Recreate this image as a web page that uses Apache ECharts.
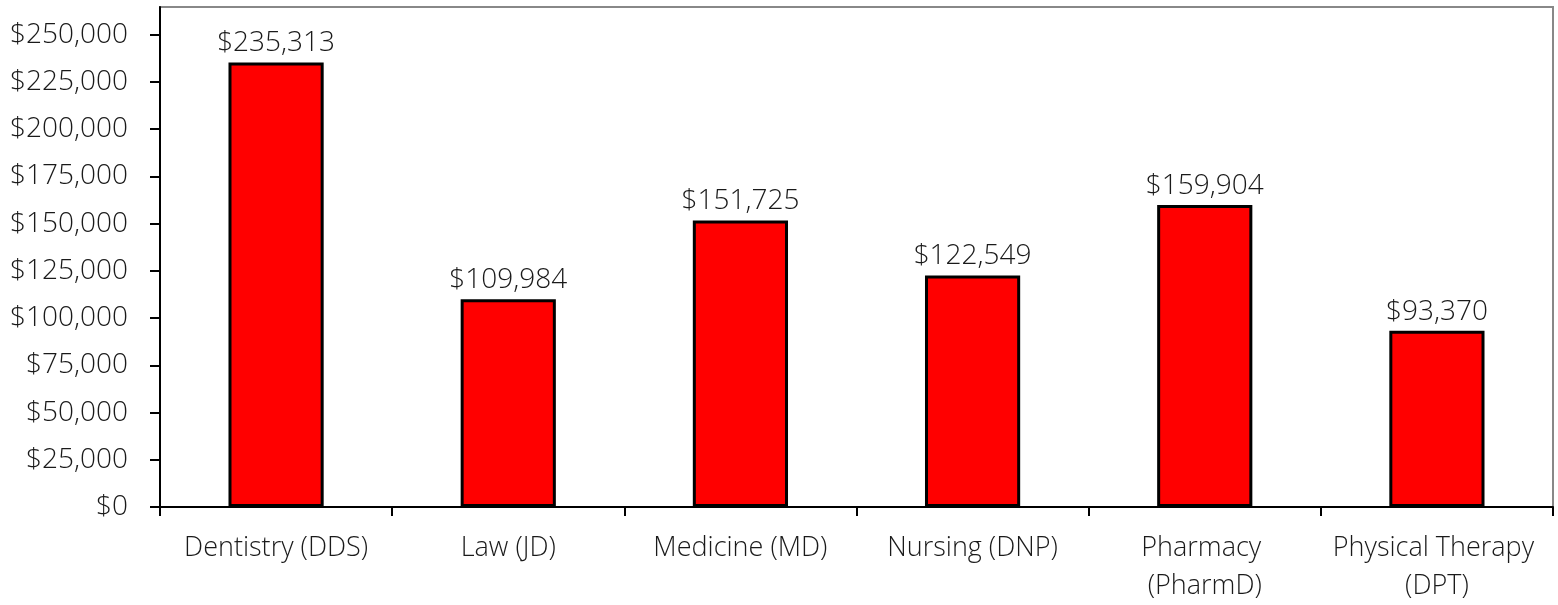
<!DOCTYPE html>
<html>
<head>
<meta charset="utf-8">
<script src="https://cdn.jsdelivr.net/npm/echarts@6/dist/echarts.min.js"></script>
<style>
html,body{margin:0;padding:0;background:#fff;}
#chart{width:1558px;height:605px;}
</style>
</head>
<body>
<div id="chart"></div>
<script>
const categories = ['Dentistry (DDS)', 'Law (JD)', 'Medicine (MD)', 'Nursing (DNP)', 'Pharmacy (PharmD)', 'Physical Therapy (DPT)'];
const values = [235313, 109984, 151725, 122549, 159904, 93370];
const yTicks = [0, 25000, 50000, 75000, 100000, 125000, 150000, 175000, 200000, 225000, 250000];

const FONT = "'Open Sans', 'Liberation Sans', sans-serif";
const fmt = v => '$' + Math.round(v).toLocaleString('en-US');

const chart = echarts.init(document.getElementById('chart'), null, {renderer: 'canvas'});
chart.setOption({
  animation: false,
  backgroundColor: '#ffffff',
  grid: {
    left: 160, right: 5, top: 7, bottom: 95,
    show: true, borderColor: '#888888', borderWidth: 2, backgroundColor: '#ffffff'
  },
  xAxis: {
    type: 'category',
    data: categories,
    axisLine: {show: true, lineStyle: {color: '#000', width: 2}},
    axisTick: {show: true, alignWithLabel: false, length: 9, lineStyle: {color: '#000', width: 2}},
    axisLabel: {
      interval: 0, margin: 22, color: '#1a1a1a',
      fontFamily: FONT, fontSize: 27, fontWeight: 300, lineHeight: 38,
      width: 228, overflow: 'break'
    },
    splitLine: {show: false}
  },
  yAxis: {
    type: 'value',
    min: 0, max: 264700,
    axisLine: {show: true, lineStyle: {color: '#000', width: 2}},
    axisTick: {show: true, length: 10, customValues: yTicks, lineStyle: {color: '#000', width: 2}},
    axisLabel: {
      customValues: yTicks, margin: 32, color: '#1a1a1a',
      fontFamily: FONT, fontSize: 28, fontWeight: 300,
      formatter: v => fmt(v)
    },
    splitLine: {show: false}
  },
  series: [{
    type: 'bar',
    data: values,
    barWidth: '41%',
    itemStyle: {color: '#ff0000', borderColor: '#000', borderWidth: 3},
    label: {
      show: true, position: 'top', distance: 5, color: '#1a1a1a',
      fontFamily: FONT, fontSize: 28, fontWeight: 300,
      formatter: p => fmt(p.value)
    }
  }]
});
</script>
</body>
</html>
